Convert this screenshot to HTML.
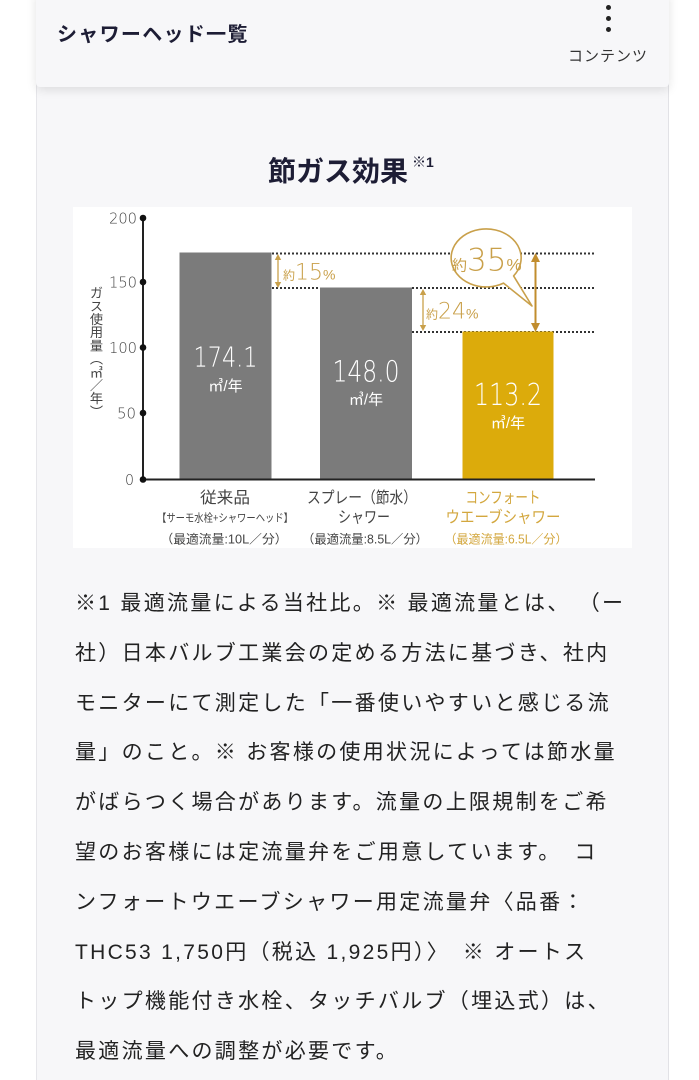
<!DOCTYPE html>
<html lang="ja">
<head>
<meta charset="utf-8">
<style>
  html,body{margin:0;padding:0;}
  body{width:699px;height:1080px;overflow:hidden;background:#ffffff;position:relative;
       font-family:"Liberation Sans","Noto Sans CJK JP",sans-serif;}
  .card{position:absolute;left:36px;top:0;width:631px;height:1080px;background:#f7f7f9;
        border-left:1px solid #e6e6ea;border-right:1px solid #e2e2e6;}
  .hdr{position:absolute;left:36px;top:-10px;width:633px;height:97px;background:#f7f7f9;
       box-shadow:0 3px 10px rgba(0,0,0,0.11);border-radius:0 0 4px 4px;}
  .hdr-title{position:absolute;left:57px;top:22px;font-size:20px;line-height:26px;font-weight:bold;
       color:#1d1d35;letter-spacing:1.3px;white-space:nowrap;}
  .dot{position:absolute;left:605.5px;width:5px;height:5px;border-radius:50%;background:#222;}
  .menu{position:absolute;left:568px;top:46px;font-size:15px;line-height:22px;color:#333;letter-spacing:1px;white-space:nowrap;}
  .title{position:absolute;left:268px;top:154px;font-size:28px;line-height:36px;font-weight:bold;color:#1d1d35;white-space:nowrap;}
  .sup{position:absolute;left:412px;top:154px;font-size:14px;line-height:16px;font-weight:bold;color:#1d1d35;white-space:nowrap;}
  .ylab{position:absolute;left:88px;top:286px;writing-mode:vertical-rl;font-size:13.2px;line-height:15px;color:#444;white-space:nowrap;}
  .txt{position:absolute;left:75px;font-size:21px;line-height:49.8px;letter-spacing:2.3px;color:#222;white-space:nowrap;}
</style>
</head>
<body>
<div class="card"></div>
<div class="hdr"></div>
<div class="hdr-title">シャワーヘッド一覧</div>
<div class="dot" style="top:5px"></div>
<div class="dot" style="top:16px"></div>
<div class="dot" style="top:27px"></div>
<div class="menu">コンテンツ</div>

<div class="title">節ガス効果</div>
<div class="sup">※1</div>

<svg width="699" height="1080" style="position:absolute;left:0;top:0" xmlns="http://www.w3.org/2000/svg"
     font-family="Liberation Sans, Noto Sans CJK JP, sans-serif">
  <rect x="73" y="207" width="559" height="341" fill="#ffffff"/>

  <!-- dotted guide lines -->
  <g stroke="#333" stroke-width="2" stroke-dasharray="2 2">
    <line x1="272" y1="253.5" x2="595" y2="253.5"/>
    <line x1="272" y1="288" x2="320" y2="288"/>
    <line x1="412" y1="288" x2="595" y2="288"/>
    <line x1="412" y1="332" x2="595" y2="332"/>
  </g>

  <!-- bars -->
  <rect x="179.5" y="252.5" width="92" height="227" fill="#7b7b7b"/>
  <rect x="320" y="287.5" width="92" height="192" fill="#7b7b7b"/>
  <rect x="462.5" y="331.5" width="91" height="148" fill="#dcab0b"/>

  <!-- axes -->
  <line x1="143" y1="218" x2="143" y2="480" stroke="#222" stroke-width="2"/>
  <line x1="142" y1="479.5" x2="595" y2="479.5" stroke="#222" stroke-width="2"/>
  <g fill="#111">
    <circle cx="143" cy="218" r="3.3"/>
    <circle cx="143" cy="282" r="3.3"/>
    <circle cx="143" cy="347.5" r="3.3"/>
    <circle cx="143" cy="413" r="3.3"/>
    <circle cx="143" cy="479.5" r="3.3"/>
  </g>
  <g font-size="15.5" fill="#444" text-anchor="end" font-family="DejaVu Sans, Liberation Sans, sans-serif" font-weight="200">
    <text x="137" y="223.5" textLength="28" lengthAdjust="spacingAndGlyphs">200</text>
    <text x="137" y="287.5" textLength="28" lengthAdjust="spacingAndGlyphs">150</text>
    <text x="137" y="353" textLength="28" lengthAdjust="spacingAndGlyphs">100</text>
    <text x="136" y="418.5" textLength="19" lengthAdjust="spacingAndGlyphs">50</text>
    <text x="134" y="485" textLength="9" lengthAdjust="spacingAndGlyphs">0</text>
  </g>

  <!-- bar values -->
  <g fill="#ffffff" text-anchor="middle">
    <g font-family="DejaVu Sans, Liberation Sans, sans-serif" font-weight="200">
      <text x="225.5" y="366.5" font-size="28" textLength="64" lengthAdjust="spacingAndGlyphs">174.1</text>
      <text x="366" y="381.5" font-size="29" textLength="67" lengthAdjust="spacingAndGlyphs">148.0</text>
      <text x="508" y="405" font-size="30" textLength="68" lengthAdjust="spacingAndGlyphs">113.2</text>
    </g>
    <text x="225.5" y="391" font-size="15">㎥/年</text>
    <text x="366" y="404.5" font-size="15">㎥/年</text>
    <text x="508" y="428" font-size="15">㎥/年</text>
  </g>

  <!-- 15% annotation -->
  <g fill="#c9a04a" stroke="none">
    <line x1="278" y1="258" x2="278" y2="284" stroke="#c9a04a" stroke-width="1.3"/>
    <polygon points="278,254 274.8,260 281.2,260"/>
    <polygon points="278,288 274.8,282 281.2,282"/>
    <text x="283" y="279.5"><tspan font-size="12">約</tspan><tspan font-size="22" font-family="DejaVu Sans, Liberation Sans, sans-serif" font-weight="200">15</tspan><tspan font-size="14">%</tspan></text>
  </g>

  <!-- 24% annotation -->
  <g fill="#c9a04a" stroke="none">
    <line x1="423" y1="293" x2="423" y2="327" stroke="#c9a04a" stroke-width="1.3"/>
    <polygon points="423,289 419.8,295 426.2,295"/>
    <polygon points="423,331 419.8,325 426.2,325"/>
    <text x="426" y="318.5"><tspan font-size="12">約</tspan><tspan font-size="22" font-family="DejaVu Sans, Liberation Sans, sans-serif" font-weight="200">24</tspan><tspan font-size="14">%</tspan></text>
  </g>

  <!-- bubble -->
  <path d="M 513.6 275.9 A 35 29 0 1 0 503.5 283.1 L 532 306 Z" fill="#ffffff" stroke="#c9a04a" stroke-width="1.6" stroke-linejoin="round"/>
  <text x="452" y="270.5" fill="#c9a04a"><tspan font-size="15">約</tspan><tspan font-size="31" font-family="DejaVu Sans, Liberation Sans, sans-serif" font-weight="200">35</tspan><tspan font-size="17">%</tspan></text>

  <!-- 35% arrow -->
  <g fill="#c18d2e">
    <line x1="535.5" y1="259" x2="535.5" y2="326" stroke="#c18d2e" stroke-width="2"/>
    <polygon points="535.5,253 531,262 540,262"/>
    <polygon points="535.5,332 531,323 540,323"/>
  </g>

  <!-- category labels -->
  <g text-anchor="middle" fill="#444">
    <text x="225" y="503" font-size="16" textLength="50" lengthAdjust="spacingAndGlyphs">従来品</text>
    <text x="225" y="521.5" font-size="11" textLength="136" lengthAdjust="spacingAndGlyphs">【サーモ水栓+シャワーヘッド】</text>
    <text x="224" y="543.5" font-size="12.5" textLength="127" lengthAdjust="spacingAndGlyphs">（最適流量:10L／分）</text>

    <text x="362" y="503" font-size="16" textLength="110" lengthAdjust="spacingAndGlyphs">スプレー（節水）</text>
    <text x="364" y="522.5" font-size="16" textLength="52" lengthAdjust="spacingAndGlyphs">シャワー</text>
    <text x="365" y="543.5" font-size="12.5" textLength="126" lengthAdjust="spacingAndGlyphs">（最適流量:8.5L／分）</text>
  </g>
  <g text-anchor="middle" fill="#d3a73e">
    <text x="503" y="503" font-size="16" textLength="75" lengthAdjust="spacingAndGlyphs">コンフォート</text>
    <text x="503" y="522.5" font-size="16" textLength="115" lengthAdjust="spacingAndGlyphs">ウエーブシャワー</text>
    <text x="506" y="543.5" font-size="12.5" textLength="123" lengthAdjust="spacingAndGlyphs">（最適流量:6.5L／分）</text>
  </g>
</svg>

<div class="ylab">ガス使用量（㎥／年）</div>

<div class="txt" style="top:579px">※1 最適流量による当社比。※ 最適流量とは、 （ー</div>
<div class="txt" style="top:628.8px">社）日本バルブ工業会の定める方法に基づき、社内</div>
<div class="txt" style="top:678.6px">モニターにて測定した「一番使いやすいと感じる流</div>
<div class="txt" style="top:728.4px">量」のこと。※ お客様の使用状況によっては節水量</div>
<div class="txt" style="top:778.2px">がばらつく場合があります。流量の上限規制をご希</div>
<div class="txt" style="top:828px">望のお客様には定流量弁をご用意しています。　コ</div>
<div class="txt" style="top:877.8px">ンフォートウエーブシャワー用定流量弁〈品番：</div>
<div class="txt" style="top:927.6px">THC53 1,750円（税込 1,925円）〉　※ オートス</div>
<div class="txt" style="top:977.4px">トップ機能付き水栓、タッチバルブ（埋込式）は、</div>
<div class="txt" style="top:1027.2px">最適流量への調整が必要です。</div>
</body>
</html>
